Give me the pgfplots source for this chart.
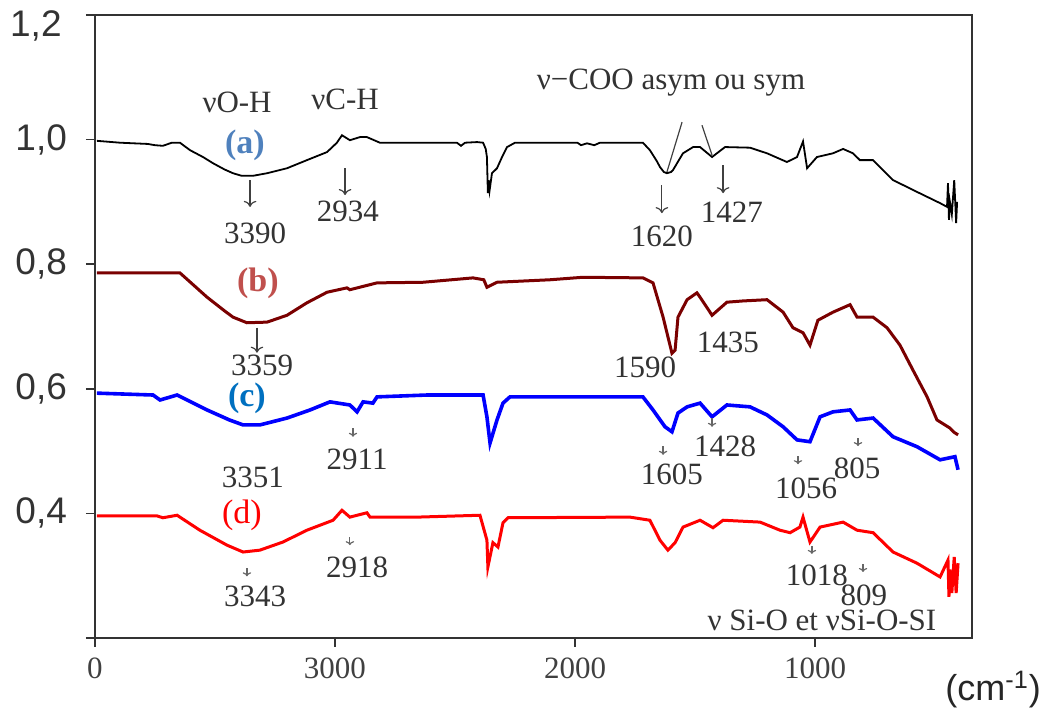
\documentclass[border=0pt]{standalone}
\usepackage{fontspec}
\setmainfont{Liberation Serif}
\newfontfamily\sansf{Liberation Sans}
\usepackage{pgfplots}
\pgfplotsset{compat=1.18}
\usetikzlibrary{arrows.meta}
\definecolor{cA}{HTML}{4F81BD}
\definecolor{cB}{HTML}{C0504D}
\definecolor{cC}{HTML}{0070C0}
\definecolor{lineB}{HTML}{7A0000}
\definecolor{txt}{HTML}{333333}
\newcommand{\af}{\fontsize{15.5pt}{18pt}\selectfont}
\newcommand{\yf}{\sansf\fontsize{18.5pt}{20pt}\selectfont}
\begin{document}
\begin{tikzpicture}
\useasboundingbox (-47.5pt,-36pt) rectangle (478pt,319pt);
\begin{axis}[
  at={(0,0)}, anchor=south west,
  scale only axis, width=438.5pt, height=311.5pt,
  x dir=reverse, xmin=346, xmax=4000, ymin=0.2, ymax=1.2,
  xtick={4000,3000,2000,1000}, xticklabels={0,3000,2000,1000},
  ytick={0.2,0.4,0.6,0.8,1.0,1.2},
  yticklabels={{},{0,4},{0,6},{0,8},{1,0},{}},
  tick align=outside, major tick length=4.5pt,
  xtick pos=bottom, ytick pos=left,
  tick style={line width=0.8pt, color=black!80},
  axis line style={line width=1pt, color=black!80},
  xticklabel style={font=\af, text=black!75, yshift=-2pt},
  yticklabel style={font=\yf, text=black!80, xshift=-6pt},
  clip=false,
]
% (a)
\addplot[black, line width=0.9pt] coordinates {
(3992,0.998) (3896,0.995) (3780,0.993) (3750,0.991) (3717,0.990) (3680,0.995) (3646,0.995)
(3604,0.983) (3550,0.972) (3508,0.962) (3460,0.952) (3425,0.946) (3390,0.942) (3340,0.942) (3283,0.946) (3200,0.954) (3117,0.967)
(3033,0.980) (2992,0.995) (2971,1.007) (2938,0.999) (2896,1.004) (2867,1.004) (2813,0.995)
(2492,0.995) (2475,0.990) (2458,0.995) (2408,0.996) (2383,0.995) (2372,0.985) (2367,0.972)
(2363,0.914) (2360,0.935) (2356,0.918) (2346,0.946) (2325,0.954) (2304,0.972) (2283,0.988)
(2250,0.995) (1990,0.995) (1975,0.991) (1950,0.994) (1920,0.991) (1896,0.995) (1717,0.995)
(1688,0.983) (1660,0.966) (1646,0.956) (1630,0.948) (1617,0.946) (1600,0.948) (1592,0.951) (1550,0.978) (1508,0.988) (1479,0.988)
(1429,0.972) (1375,0.988) (1271,0.987) (1200,0.978) (1117,0.964) (1075,0.972) (1050,0.997)
(1033,0.954) (992,0.972) (925,0.978) (883,0.985) (842,0.978) (813,0.967) (758,0.967)
(675,0.935) (575,0.916) (479,0.898) (450,0.892) (446,0.930) (442,0.871) (438,0.900)
(430,0.880) (420,0.935) (412,0.866) (408,0.900)
};
% (b)
\addplot[lineB, line width=1.5pt] coordinates {
(3992,0.786) (3646,0.786) (3533,0.747) (3460,0.725) (3425,0.715) (3367,0.706) (3283,0.707) (3200,0.718)
(3117,0.738) (3033,0.755) (2950,0.762) (2938,0.759) (2825,0.770) (2633,0.771) (2425,0.778)
(2380,0.775) (2367,0.763) (2325,0.771) (2104,0.775) (1967,0.779) (1717,0.778) (1675,0.770)
(1633,0.715) (1596,0.657) (1583,0.662) (1571,0.715) (1533,0.743) (1492,0.754) (1479,0.747)
(1429,0.718) (1367,0.739) (1300,0.741) (1200,0.743) (1133,0.723) (1092,0.698) (1050,0.690)
(1021,0.670) (988,0.710) (925,0.723) (854,0.735) (825,0.715) (758,0.715) (700,0.698)
(646,0.670) (592,0.630) (533,0.587) (492,0.550) (438,0.537) (420,0.530) (404,0.526)
};
% (c)
\addplot[blue, line width=1.8pt] coordinates {
(3992,0.593) (3758,0.590) (3729,0.582) (3658,0.590) (3533,0.566) (3440,0.550) (3383,0.542) (3313,0.542)
(3200,0.553) (3104,0.566) (3021,0.579) (2938,0.574) (2908,0.563) (2883,0.579) (2842,0.577)
(2825,0.587) (2617,0.590) (2383,0.590) (2367,0.555) (2354,0.513) (2325,0.550) (2300,0.577)
(2271,0.587) (1717,0.587) (1675,0.566) (1625,0.539) (1596,0.531) (1571,0.561) (1533,0.571)
(1479,0.577) (1429,0.555) (1367,0.574) (1271,0.571) (1200,0.558) (1133,0.539) (1075,0.518)
(1021,0.515) (979,0.555) (925,0.563) (854,0.566) (825,0.550) (758,0.553) (675,0.523)
(575,0.507) (479,0.486) (417,0.491) (404,0.470)
};
% (d)
\addplot[red, line width=1.5pt] coordinates {
(3992,0.396) (3742,0.396) (3717,0.393) (3658,0.397) (3563,0.373) (3450,0.349) (3383,0.338)
(3313,0.341) (3217,0.354) (3117,0.373) (3008,0.389) (2971,0.405) (2938,0.394) (2867,0.401)
(2854,0.394) (2658,0.394) (2396,0.397) (2367,0.357) (2363,0.314) (2342,0.353) (2321,0.346)
(2300,0.385) (2279,0.393) (1771,0.394) (1688,0.389) (1646,0.357) (1613,0.341) (1583,0.353)
(1550,0.378) (1479,0.389) (1425,0.377) (1383,0.389) (1229,0.386) (1146,0.373) (1104,0.369)
(1063,0.378) (1050,0.394) (1021,0.354) (979,0.378) (883,0.386) (825,0.373) (758,0.369)
(675,0.338) (575,0.320) (479,0.298) (446,0.325) (442,0.266) (438,0.310) (430,0.272)
(420,0.330) (412,0.272) (404,0.320)
};
% top tick label, set lower as in the reference
\node[font=\yf, text=black!80, inner sep=0pt, anchor=base east, xshift=-16.5pt, yshift=-11pt] at (rel axis cs:0,1) {1,2};
% annotations
\begin{scope}[every node/.style={font=\af, text=txt, inner sep=0pt}]
\node at (axis cs:3408,1.059) {νO-H};
\node at (axis cs:2958,1.064) {νC-H};
\node at (axis cs:1600,1.092) {ν−COO asym ou sym};
\node at (axis cs:3333,0.850) {3390};
\node at (axis cs:2946,0.884) {2934};
\node at (axis cs:1638,0.844) {1620};
\node at (axis cs:1346,0.884) {1427};
\node at (axis cs:3304,0.638) {3359};
\node at (axis cs:1708,0.635) {1590};
\node at (axis cs:1363,0.674) {1435};
\node at (axis cs:3342,0.458) {3351};
\node at (axis cs:2908,0.486) {2911};
\node at (axis cs:1596,0.462) {1605};
\node at (axis cs:1375,0.507) {1428};
\node at (axis cs:1037,0.441) {1056};
\node at (axis cs:825,0.473) {805};
\node at (axis cs:3333,0.266) {3343};
\node at (axis cs:2908,0.314) {2918};
\node at (axis cs:992,0.301) {1018};
\node at (axis cs:796,0.268) {809};
\node at (axis cs:971,0.229) {ν Si-O et νSi-O-SI};
\end{scope}
\node[font=\bfseries\fontsize{17pt}{20pt}\selectfont, text=cA, inner sep=0pt] at (axis cs:3375,0.991) {(a)};
\node[font=\bfseries\fontsize{17pt}{20pt}\selectfont, text=cB, inner sep=0pt] at (axis cs:3321,0.770) {(b)};
\node[font=\bfseries\fontsize{17pt}{20pt}\selectfont, text=cC, inner sep=0pt] at (axis cs:3367,0.585) {(c)};
\node[font=\fontsize{17pt}{20pt}\selectfont, text=red, inner sep=0pt] at (axis cs:3388,0.397) {(d)};
\node[font=\sansf\fontsize{18pt}{20pt}\selectfont, text=black!85, inner sep=0pt] at (axis cs:258,0.117) {(cm\textsuperscript{-1})};
% arrows
\begin{scope}[black!75, line width=0.6pt, -{To[length=3pt]}]
\draw (axis cs:3354,0.935) -- (axis cs:3354,0.892);
\draw (axis cs:2958,0.954) -- (axis cs:2958,0.911);
\draw (axis cs:1638,0.927) -- (axis cs:1638,0.882);
\draw (axis cs:1383,0.959) -- (axis cs:1383,0.914);
\draw (axis cs:3325,0.698) -- (axis cs:3325,0.658);
\end{scope}
\begin{scope}[black!75, line width=0.6pt]
\draw (axis cs:1554,1.028) -- (axis cs:1617,0.948);
\draw (axis cs:1471,1.023) -- (axis cs:1429,0.975);
\end{scope}
\begin{scope}[black!60, line width=0.6pt, -{To[length=2pt]}]
\draw (axis cs:2925,0.537) -- (axis cs:2925,0.523);
\draw (axis cs:1633,0.508) -- (axis cs:1633,0.494);
\draw (axis cs:1429,0.553) -- (axis cs:1429,0.539);
\draw (axis cs:1071,0.492) -- (axis cs:1071,0.479);
\draw (axis cs:821,0.521) -- (axis cs:821,0.508);
\draw (axis cs:3367,0.312) -- (axis cs:3367,0.299);
\draw (axis cs:2938,0.362) -- (axis cs:2938,0.349);
\draw (axis cs:1013,0.348) -- (axis cs:1013,0.335);
\draw (axis cs:800,0.319) -- (axis cs:800,0.306);
\end{scope}
\end{axis}
\end{tikzpicture}
\end{document}
